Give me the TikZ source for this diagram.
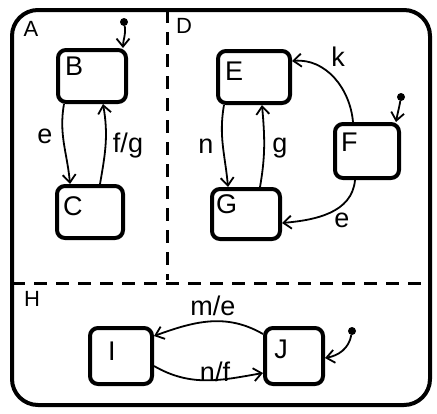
\documentclass[tikz,border=0pt]{standalone}
\usepackage{fontspec}
\setmainfont{Liberation Sans}
\usetikzlibrary{arrows.meta}
\begin{document}
\begin{tikzpicture}[x=1pt,y=-1pt,
  state/.style={draw,line width=4pt,rounded corners=8pt,minimum width=68pt,minimum height=52pt,
    inner sep=0pt},
  lbl/.style={font=\fontsize{27}{30}\selectfont,inner sep=1pt},
  regionname/.style={font=\fontsize{22}{26}\selectfont,inner sep=1pt},
  trans/.style={line width=1.8pt,-{Straight Barb[length=8pt,width=13pt,line width=1.8pt]}},
  init/.style={fill,circle,inner sep=0pt,minimum size=8pt},
  divider/.style={line width=3pt,dash pattern=on 13pt off 9pt}]
\useasboundingbox (0,0) rectangle (437,413);
% outer superstate and its regions
\draw[line width=4pt,rounded corners=26pt] (12,10) rectangle (430,405);
\draw[divider] (167,10) -- (167,280);
\draw[divider] (12,283) -- (430,283);
\node[regionname] (lA) at (31,29) {A};
\node[regionname] (lD) at (184,26) {D};
\node[regionname] (lH) at (32,299) {H};
% states
\node[state] (B) at (92,76) {};
\node[lbl,anchor=west] (Bt) at (64,66) {B};
\node[state,minimum width=66pt] (C) at (90,212) {};
\node[lbl,anchor=west] (Ct) at (62,206) {C};
\node[state,minimum width=72pt] (E) at (254,77) {};
\node[lbl,anchor=west] (Et) at (224,71) {E};
\node[state,minimum width=68pt,minimum height=50pt] (G) at (246,214) {};
\node[lbl,anchor=west] (Gt) at (215,204) {G};
\node[state,minimum width=64pt,minimum height=54pt] (F) at (367,151) {};
\node[lbl,anchor=west] (Ft) at (340,142) {F};
\node[state,minimum width=62pt,minimum height=56pt] (I) at (121,356) {};
\node[lbl] (It) at (112,351) {I};
\node[state,minimum width=58pt,minimum height=56pt] (J) at (294,356) {};
\node[lbl] (Jt) at (281,349) {J};
% initial pseudostates
\node[init] (iB) at (124,22) {};
\node[init] (iF) at (401,97) {};
\node[init] (iJ) at (352,331) {};
\draw[trans] (iB) to[out=-80,in=90] ([xshift=-5pt]B.north east);
\draw[trans] (iF) to[out=-100,in=80] ([xshift=-5pt]F.north east);
\draw[trans] (iJ) to[out=-100,in=10] ([yshift=-2pt]J.east);
% transitions in A
\draw[trans] ([xshift=-28pt]B.south) to[out=-100,in=95] ([xshift=-20pt]C.north);
\draw[trans] ([xshift=10pt]C.north) to[out=80,in=-80] ([xshift=11pt]B.south);
\node[lbl] (le) at (45,136) {e};
\node[lbl] (lfg) at (128,146) {f/g};
% transitions in D
\draw[trans] ([xshift=-30pt]E.south) to[out=-100,in=95] ([xshift=-18pt]G.north);
\draw[trans] ([xshift=14pt]G.north) to[out=80,in=-85] ([xshift=8pt]E.south);
\node[lbl] (ln) at (206,146) {n};
\node[lbl] (lg) at (280,148) {g};
\draw[trans] ([xshift=-14pt]F.north) to[out=95,in=5] ([yshift=16pt]E.east);
\node[lbl] (lk) at (338,57) {k};
\draw[trans] ([xshift=-12pt]F.south) to[out=-95,in=5] ([yshift=-9pt]G.east);
\node[lbl] (le2) at (342,220) {e};
% transitions in H
\draw[trans] ([yshift=22pt]J.west) to[out=150,in=20] ([yshift=20pt]I.east);
\node[lbl] (lme) at (213,306) {m/e};
\draw[trans] ([yshift=-10pt]I.east) to[out=-30,in=-170] ([yshift=-17pt]J.west);
\node[lbl] (lnf) at (215,372) {n/f};
\end{tikzpicture}
\end{document}
